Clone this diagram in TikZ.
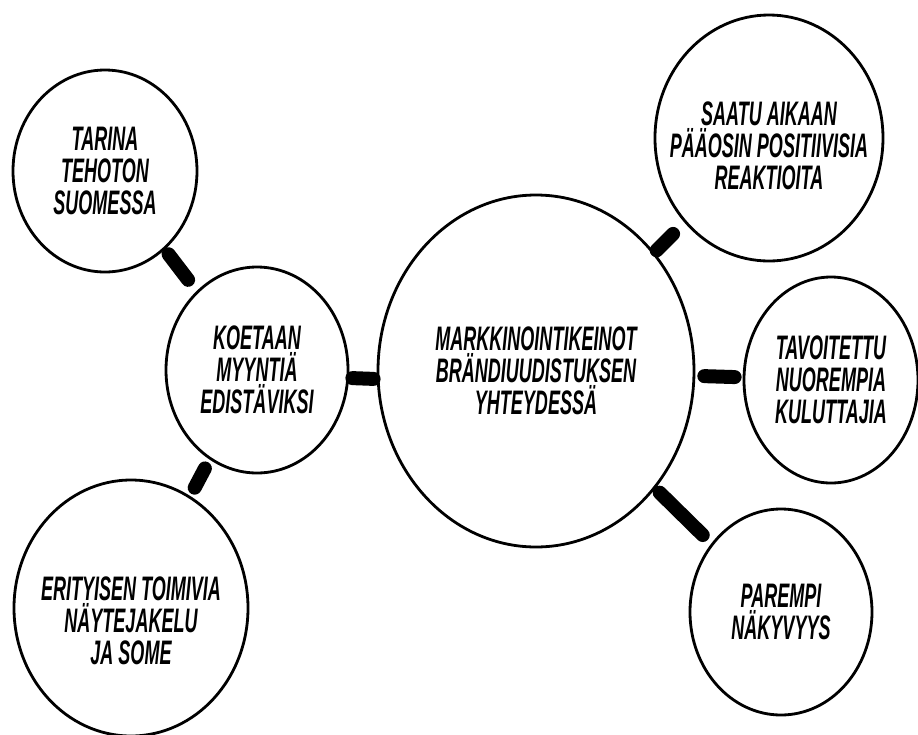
\documentclass[tikz,border=0pt]{standalone}
\usepackage{fontspec}
\usetikzlibrary{shapes.geometric}
\newfontfamily\bubblefont{Liberation Sans}[FakeStretch=0.53]

\begin{document}
\begin{tikzpicture}[x=0.5pt, y=-0.5pt,
  bubble/.style 2 args={draw, ellipse, line width=1.4pt, inner sep=0pt,
    minimum width=#1pt, minimum height=#2pt},
  every label/.style={align=center, inner sep=0pt,
    font=\bubblefont\bfseries\itshape\fontsize{17}{16}\selectfont},
  bar/.style={line width=7pt, line cap=round}]
\useasboundingbox (0,0) rectangle (918,735);
\node [bubble={92}{101}, label={center:TARINA\\TEHOTON\\SUOMESSA}] (tarina) at (105,171) {};
\node [bubble={91}{103}, label={center:KOETAAN\\MYYNTIÄ\\EDISTÄVIKSI}] (koetaan) at (257,370) {};
\node [bubble={117}{128}, label={[yshift=-6.5pt]center:ERITYISEN TOIMIVIA\\NÄYTEJAKELU\\JA SOME}] (erityisen) at (131,608) {};
\node [bubble={158}{176}, label={center:MARKKINOINTIKEINOT\\BRÄNDIUUDISTUKSEN\\YHTEYDESSÄ}] (main) at (536,371) {};
\node [bubble={114}{123}, label={[yshift=-4pt]center:SAATU AIKAAN\\PÄÄOSIN POSITIIVISIA\\REAKTIOITA}] (saatu) at (769,138) {};
\node [bubble={87}{103}, label={center:TAVOITETTU\\NUOREMPIA\\KULUTTAJIA}] (tavoitettu) at (831,380) {};
\node [bubble={91}{103}, label={center:PAREMPI\\NÄKYVYYS}] (parempi) at (781,612) {};
% thick bars between the bubbles
\draw [bar, shorten <=3pt, shorten >=7pt] (tarina) -- (koetaan);
\draw [bar, shorten <=5pt, shorten >=4.7pt] (koetaan) -- (erityisen);
\draw [bar, shorten <=1.5pt, shorten >=1.5pt] ([yshift=-4pt]koetaan.east) -- ([yshift=-4pt]main.west);
\draw [bar, shorten <=1.5pt, shorten >=8pt] (main) -- (saatu);
\draw [bar, shorten <=4.5pt, shorten >=4pt] (main) -- (tavoitettu);
\draw [bar, shorten <=3pt, shorten >=6pt] (main) -- (parempi);
\end{tikzpicture}
\end{document}
